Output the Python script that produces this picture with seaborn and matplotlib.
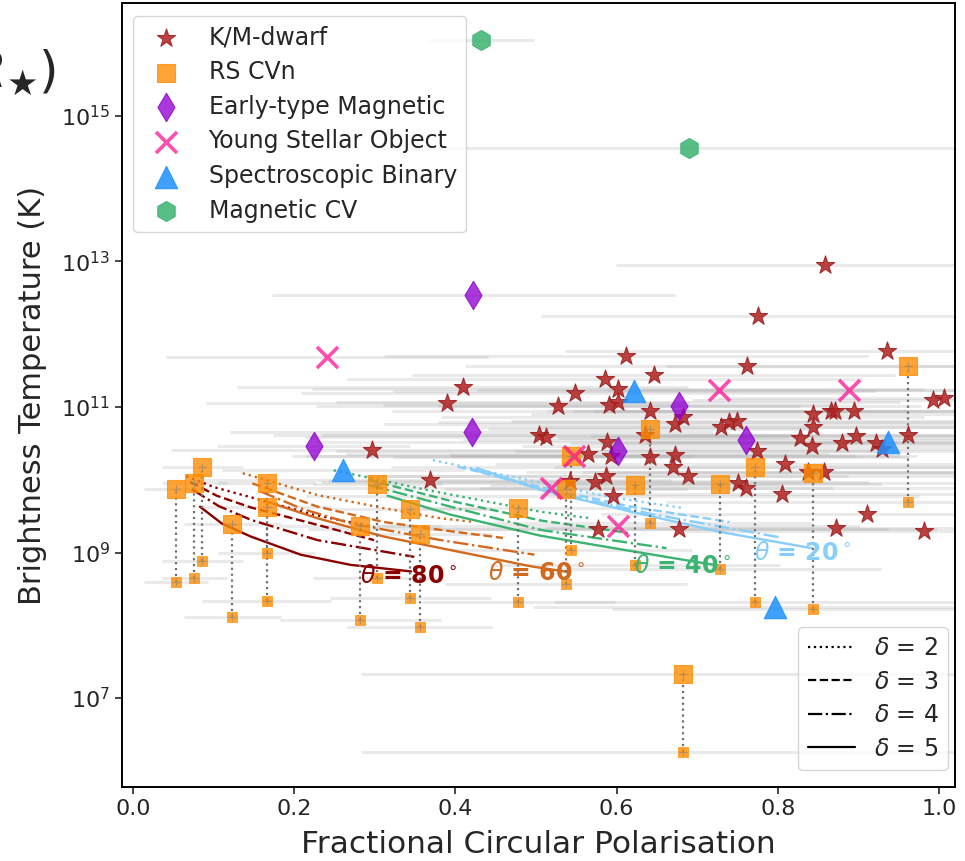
import numpy as np
import pandas as pd
import matplotlib
matplotlib.use("Agg")
import matplotlib.pyplot as plt
from matplotlib.lines import Line2D
from matplotlib.ticker import FixedLocator, FuncFormatter, NullLocator
import seaborn as sns

# ---------------- observed sources ----------------
# fractional circular polarisation, log10 brightness temperature (K), half-width of the polarisation range
km_frac = [0.859, 0.776, 0.936, 0.612, 0.762, 0.646, 0.585, 0.549, 0.527, 0.602,
           0.590, 0.602, 0.641, 0.672, 0.682, 0.635, 0.504, 0.513, 0.588, 0.564,
           0.593, 0.642, 0.672, 0.670, 0.689, 0.587, 0.573, 0.542, 0.595, 0.577,
           0.677, 0.730, 0.739, 0.749, 0.751, 0.761, 0.774, 0.809, 0.805, 0.844,
           0.866, 0.871, 0.894, 0.844, 0.827, 0.843, 0.897, 0.880, 0.922, 0.929,
           0.961, 0.993, 1.006, 0.838, 0.857, 0.911, 0.872, 0.982, 0.409, 0.390,
           0.297, 0.368]
km_log_tb = [12.95, 12.25, 11.77, 11.70, 11.56, 11.44, 11.38, 11.19, 11.02, 11.25,
             11.03, 11.07, 10.94, 10.77, 10.86, 10.61, 10.61, 10.59, 10.52, 10.35,
             10.33, 10.31, 10.34, 10.18, 10.05, 10.05, 9.97, 9.98, 9.77, 9.33,
             9.33, 10.73, 10.79, 10.81, 9.95, 9.88, 10.39, 10.22, 9.81, 10.91,
             10.95, 10.95, 10.94, 10.73, 10.58, 10.46, 10.60, 10.50, 10.51, 10.42,
             10.61, 11.09, 11.12, 10.10, 10.10, 9.53, 9.34, 9.29, 11.28, 11.05,
             10.41, 9.99]
km_frac_err = [0.26, 0.27, 0.40, 0.30, 0.35, 0.30, 0.32, 0.34, 0.30, 0.38,
               0.28, 0.35, 0.32, 0.36, 0.30, 0.40, 0.33, 0.30, 0.36, 0.30,
               0.38, 0.32, 0.28, 0.35, 0.40, 0.30, 0.34, 0.30, 0.38, 0.36,
               0.32, 0.30, 0.36, 0.28, 0.38, 0.33, 0.30, 0.36, 0.30, 0.35,
               0.32, 0.30, 0.38, 0.34, 0.30, 0.36, 0.33, 0.30, 0.38, 0.35,
               0.32, 0.30, 0.28, 0.35, 0.30, 0.33, 0.36, 0.30, 0.28, 0.30,
               0.25, 0.30]

rs_frac = [0.053, 0.076, 0.086, 0.123, 0.166, 0.166, 0.282, 0.303, 0.344, 0.356,
           0.478, 0.537, 0.544, 0.623, 0.641, 0.683, 0.728, 0.772, 0.844, 0.961]
rs_log_tb_upper = [9.87, 9.95, 10.17, 9.39, 9.95, 9.63, 9.36, 9.94, 9.60, 9.26,
                   9.61, 9.87, 10.32, 9.93, 10.70, 7.33, 9.94, 10.18, 10.09, 11.56]
rs_log_tb_lower = [8.59, 8.65, 8.88, 8.11, 9.00, 8.34, 8.07, 8.65, 8.37, 7.98,
                   8.32, 8.57, 9.03, 8.83, 9.40, 6.26, 8.78, 8.32, 8.22, 9.70]
rs_frac_err = [0.04, 0.04, 0.05, 0.06, 0.06, 0.08, 0.10, 0.08, 0.10, 0.09,
               0.12, 0.15, 0.15, 0.18, 0.20, 0.40, 0.20, 0.25, 0.25, 0.30]

et_frac = [0.422, 0.224, 0.420, 0.602, 0.678, 0.760]
et_log_tb = [12.54, 10.46, 10.66, 10.39, 11.01, 10.54]
et_frac_err = [0.25, 0.12, 0.30, 0.35, 0.30, 0.35]

yso_frac = [0.241, 0.727, 0.888, 0.547, 0.519, 0.602]
yso_log_tb = [11.69, 11.24, 11.23, 10.33, 9.89, 9.36]
yso_frac_err = [0.20, 0.30, 0.30, 0.35, 0.35, 0.30]

sb_frac = [0.261, 0.622, 0.937, 0.796]
sb_log_tb = [10.13, 11.22, 10.52, 8.25]
sb_frac_err = [0.15, 0.30, 0.30, 0.30]

cv_frac = [0.432, 0.690]
cv_log_tb = [16.04, 14.56]
cv_frac_err = [0.065, 0.40]

# ---------------- model tracks (viewing angle theta, power-law index delta) ----------------
t80_d2_x = [0.066, 0.100, 0.146, 0.224, 0.299]
t80_d2_y = [10.05, 9.90, 9.76, 9.52, 9.35]
t80_d3_x = [0.071, 0.104, 0.146, 0.229, 0.299]
t80_d3_y = [9.97, 9.78, 9.62, 9.38, 9.17]
t80_d4_x = [0.073, 0.106, 0.146, 0.229, 0.349]
t80_d4_y = [9.87, 9.64, 9.45, 9.17, 8.94]
t80_d5_x = [0.083, 0.110, 0.146, 0.208, 0.270, 0.345]
t80_d5_y = [9.63, 9.40, 9.22, 8.97, 8.83, 8.74]

t60_d2_x = [0.136, 0.229, 0.311, 0.382, 0.423]
t60_d2_y = [10.09, 9.79, 9.61, 9.47, 9.42]
t60_d3_x = [0.148, 0.229, 0.311, 0.382, 0.459]
t60_d3_y = [9.95, 9.63, 9.42, 9.31, 9.20]
t60_d4_x = [0.158, 0.210, 0.270, 0.382, 0.498]
t60_d4_y = [9.84, 9.60, 9.40, 9.17, 8.97]
t60_d5_x = [0.166, 0.229, 0.311, 0.382, 0.494, 0.541]
t60_d5_y = [9.70, 9.47, 9.22, 9.06, 8.81, 8.73]

t40_d2_x = [0.249, 0.369, 0.506, 0.568]
t40_d2_y = [10.13, 9.85, 9.56, 9.47]
t40_d3_x = [0.292, 0.394, 0.506, 0.614]
t40_d3_y = [10.00, 9.71, 9.44, 9.27]
t40_d4_x = [0.292, 0.394, 0.506, 0.618, 0.662]
t40_d4_y = [9.93, 9.63, 9.31, 9.13, 9.06]
t40_d5_x = [0.316, 0.394, 0.506, 0.618, 0.721]
t40_d5_y = [9.78, 9.52, 9.23, 9.02, 8.83]

t20_d2_x = [0.372, 0.432, 0.506, 0.593, 0.684]
t20_d2_y = [10.27, 10.13, 9.96, 9.76, 9.61]
t20_d3_x = [0.403, 0.506, 0.618, 0.740]
t20_d3_y = [10.18, 9.90, 9.63, 9.42]
t20_d4_x = [0.419, 0.506, 0.643, 0.802]
t20_d4_y = [10.15, 9.87, 9.53, 9.21]
t20_d5_x = [0.427, 0.506, 0.618, 0.730, 0.842]
t20_d5_y = [10.16, 9.86, 9.56, 9.28, 9.06]

theta_labels = [r"$\theta$ = 80$^\circ$", r"$\theta$ = 60$^\circ$",
                r"$\theta$ = 40$^\circ$", r"$\theta$ = 20$^\circ$"]
theta_label_x = [0.281, 0.440, 0.622, 0.771]
theta_label_log_tb = [8.68, 8.72, 8.81, 8.99]
theta_colors = ["#8B0000", "#D2691E", "#3CB371", "#87CEFA"]

delta_values = [2, 3, 4, 5]
delta_styles = [":", "--", "-.", "-"]

# ---------------- figure ----------------
sns.set_theme(style="ticks")
plt.rcParams["font.family"] = ["DejaVu Sans"]
plt.rcParams["mathtext.fontset"] = "dejavusans"

fig, ax = plt.subplots(figsize=(9.65, 8.61), dpi=100)
fig.subplots_adjust(left=122 / 965, right=955 / 965, bottom=1 - 787 / 861, top=1 - 3 / 861)


def tb(log_values):
    return 10.0 ** np.asarray(log_values, dtype=float)


def range_lines(frac, log_tb, err):
    f = np.asarray(frac)
    e = np.asarray(err)
    ax.hlines(tb(log_tb), f - e, f + e, color="#a8a8a8", alpha=0.24, lw=2.2, zorder=1)


range_lines(km_frac, km_log_tb, km_frac_err)
range_lines(rs_frac, rs_log_tb_upper, rs_frac_err)
range_lines(rs_frac, rs_log_tb_lower, rs_frac_err)
range_lines(et_frac, et_log_tb, et_frac_err)
range_lines(yso_frac, yso_log_tb, yso_frac_err)
range_lines(sb_frac, sb_log_tb, sb_frac_err)
range_lines(cv_frac, cv_log_tb, cv_frac_err)

# model tracks
tracks = [
    [(t80_d2_x, t80_d2_y), (t80_d3_x, t80_d3_y), (t80_d4_x, t80_d4_y), (t80_d5_x, t80_d5_y)],
    [(t60_d2_x, t60_d2_y), (t60_d3_x, t60_d3_y), (t60_d4_x, t60_d4_y), (t60_d5_x, t60_d5_y)],
    [(t40_d2_x, t40_d2_y), (t40_d3_x, t40_d3_y), (t40_d4_x, t40_d4_y), (t40_d5_x, t40_d5_y)],
    [(t20_d2_x, t20_d2_y), (t20_d3_x, t20_d3_y), (t20_d4_x, t20_d4_y), (t20_d5_x, t20_d5_y)],
]
for color, group in zip(theta_colors, tracks):
    for (cx, cy), ls in zip(group, delta_styles):
        sns.lineplot(x=cx, y=tb(cy), color=color, linestyle=ls, lw=1.7,
                     sort=False, estimator=None, ax=ax, zorder=2)

# RS CVn upper/lower pairs joined by dotted connectors
ax.vlines(rs_frac, tb(rs_log_tb_lower), tb(rs_log_tb_upper), colors="#707070",
          linestyles=":", lw=1.6, zorder=2)

sns.scatterplot(x=km_frac, y=tb(km_log_tb), marker="*", s=190, color="#B22222",
                edgecolor="#9a1c1c", linewidth=0.8, alpha=0.85, ax=ax, zorder=3,
                label="K/M-dwarf")
sns.scatterplot(x=rs_frac, y=tb(rs_log_tb_upper), marker="s", s=175, color="#FF8C00",
                edgecolor="#FF8C00", linewidth=0.8, alpha=0.78, ax=ax, zorder=3,
                label="RS CVn")
sns.scatterplot(x=rs_frac, y=tb(rs_log_tb_lower), marker="s", s=45, color="#FF8C00",
                edgecolor="#FF8C00", linewidth=0.6, alpha=0.78, ax=ax, zorder=3)
sns.scatterplot(x=rs_frac + rs_frac, y=tb(rs_log_tb_upper + rs_log_tb_lower), marker="+",
                s=30, color="#808080", linewidth=0.8, alpha=0.55, ax=ax, zorder=3.1)
sns.scatterplot(x=et_frac, y=tb(et_log_tb), marker="d", s=210, color="#9400D3",
                edgecolor="#8a00c4", linewidth=0.8, alpha=0.78, ax=ax, zorder=3,
                label="Early-type Magnetic")
sns.scatterplot(x=yso_frac, y=tb(yso_log_tb), marker="x", s=230, color="#FF1493",
                linewidth=2.6, alpha=0.75, ax=ax, zorder=3,
                label="Young Stellar Object")
sns.scatterplot(x=sb_frac, y=tb(sb_log_tb), marker="^", s=260, color="#1E90FF",
                edgecolor="#1E90FF", linewidth=0.8, alpha=0.85, ax=ax, zorder=3,
                label="Spectroscopic Binary")
sns.scatterplot(x=cv_frac, y=tb(cv_log_tb), marker="h", s=210, color="#3CB371",
                edgecolor="#3CB371", linewidth=0.8, alpha=0.85, ax=ax, zorder=3,
                label="Magnetic CV")

for text, lx, ly, col in zip(theta_labels, theta_label_x, theta_label_log_tb, theta_colors):
    ax.text(lx, 10.0 ** ly, text, color=col, fontsize=17, fontweight="bold",
            ha="left", va="center", zorder=4)

ax.set_yscale("log")
ax.set_xlim(-0.0137, 1.0199)
ax.set_ylim(10 ** 5.777, 10 ** 16.553)
ax.xaxis.set_major_locator(FixedLocator([0.0, 0.2, 0.4, 0.6, 0.8, 1.0]))
ax.xaxis.set_major_formatter(FuncFormatter(lambda v, p: f"{v:.1f}"))
ax.yaxis.set_major_locator(FixedLocator([1e7, 1e9, 1e11, 1e13, 1e15]))
ax.yaxis.set_major_formatter(FuncFormatter(lambda v, p: rf"$10^{{{int(round(np.log10(v)))}}}$"))
ax.yaxis.set_minor_locator(NullLocator())
ax.xaxis.set_minor_locator(NullLocator())
ax.tick_params(axis="x", labelsize=16, length=5, width=1.2)
ax.tick_params(axis="y", labelsize=16, length=5, width=1.2)
for sp in ax.spines.values():
    sp.set_linewidth(1.4)
    sp.set_color("black")

ax.set_xlabel("Fractional Circular Polarisation", fontsize=22.5, labelpad=8)
ax.set_ylabel("Brightness Temperature (K)", fontsize=22, labelpad=10)

handles, labels = ax.get_legend_handles_labels()
source_order = ["K/M-dwarf", "RS CVn", "Early-type Magnetic", "Young Stellar Object",
                "Spectroscopic Binary", "Magnetic CV"]
hmap = dict(zip(labels, handles))
leg1 = ax.legend([hmap[k] for k in source_order], source_order, loc="upper left",
                 bbox_to_anchor=((133 - 122) / 833, (787 - 16) / 784),
                 borderaxespad=0.0, fontsize=17, labelspacing=0.45, frameon=True)
ax.add_artist(leg1)

delta_handles = [Line2D([], [], color="black", linestyle=ls, lw=1.6) for ls in delta_styles]
delta_labels = [rf"$\delta$ = {d}" for d in delta_values]
ax.legend(delta_handles, delta_labels, loc="lower right",
          bbox_to_anchor=((948 - 122) / 833, (787 - 770) / 784),
          borderaxespad=0.0, fontsize=17, labelspacing=0.4, frameon=True)

# tail of the neighbouring panel's axis title
fig.text(56 / 965, 1 - 72 / 861, r"$(R_\bigstar)$", fontsize=36, ha="right", va="center")

fig.savefig("out.png", dpi=100)
